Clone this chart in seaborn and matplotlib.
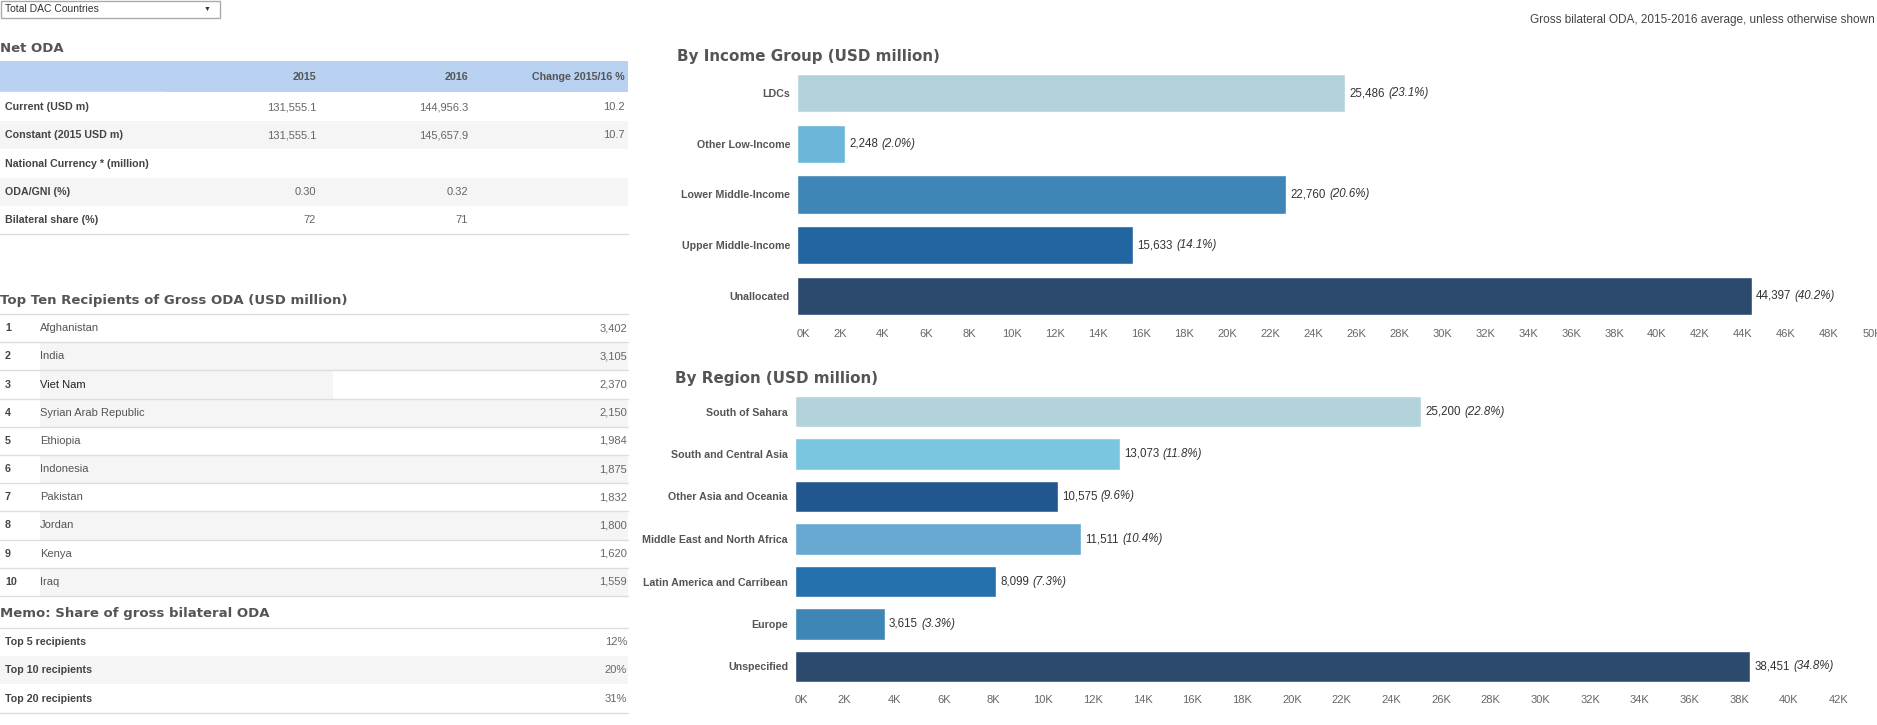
import matplotlib.pyplot as plt
import seaborn as sns
import pandas as pd
from matplotlib.patches import Rectangle

# --- data ---
income_groups = ["LDCs", "Other Low-Income", "Lower Middle-Income", "Upper Middle-Income", "Unallocated"]
income_values = [25486, 2248, 22760, 15633, 44397]
income_shares = [23.1, 2.0, 20.6, 14.1, 40.2]
income_colors = ["#b3d3da", "#6cb6d9", "#3e86b6", "#2166a1", "#2b4a6e"]

regions = ["South of Sahara", "South and Central Asia", "Other Asia and Oceania",
           "Middle East and North Africa", "Latin America and Carribean", "Europe", "Unspecified"]
region_values = [25200, 13073, 10575, 11511, 8099, 3615, 38451]
region_shares = [22.8, 11.8, 9.6, 10.4, 7.3, 3.3, 34.8]
region_colors = ["#b3d3da", "#7ac6e1", "#22568f", "#67a9d0", "#2471ae", "#3e86b6", "#2b4a6e"]

net_oda_columns = ["2015", "2016", "Change 2015/16 %"]
net_oda_rows = ["Current (USD m)", "Constant (2015 USD m)", "National Currency * (million)",
                "ODA/GNI (%)", "Bilateral share (%)"]
net_oda_2015 = ["131,555.1", "131,555.1", "", "0.30", "72"]
net_oda_2016 = ["144,956.3", "145,657.9", "", "0.32", "71"]
net_oda_change = ["10.2", "10.7", "", "", ""]

top_recipients = ["Afghanistan", "India", "Viet Nam", "Syrian Arab Republic", "Ethiopia",
                  "Indonesia", "Pakistan", "Jordan", "Kenya", "Iraq"]
top_values = [3402, 3105, 2370, 2150, 1984, 1875, 1832, 1800, 1620, 1559]

memo_labels = ["Top 5 recipients", "Top 10 recipients", "Top 20 recipients"]
memo_shares = [12, 20, 31]

sns.set_theme(style="white")
plt.rcParams['font.family'] = ['Liberation Sans', 'DejaVu Sans']

W, H = 1877, 725
fig = plt.figure(figsize=(W / 100, H / 100), dpi=100)
renderer = fig.canvas.get_renderer()

# background axes in pixel coordinates, used for the tables on the left
bg = fig.add_axes([0, 0, 1, 1])
bg.set_xlim(0, W)
bg.set_ylim(H, 0)
bg.axis('off')

LEFT_TITLE = dict(family='DejaVu Sans', weight='bold', color='#555555', size=9.5)
RIGHT_TITLE = dict(family='DejaVu Sans', weight='bold', color='#555555', size=10.9)
ROW_H = 28.2
TABLE_R = 628
SHADE = '#f5f5f5'
LINE = '#dddddd'


def txt(x, y, s, ha='left', **kw):
    style = dict(size=8, color='#555555')
    style.update(kw)
    bg.text(x, y, s, ha=ha, va='center', **style)


def hline(y, x0=0, x1=TABLE_R, color=LINE):
    bg.plot([x0, x1], [y, y], color=color, lw=1)


# dropdown and subtitle
bg.add_patch(Rectangle((0.5, 0.5), 220, 17, facecolor='white', edgecolor='#aaaaaa', lw=1))
txt(5, 9, "Total DAC Countries", color='#333333', size=7.5)
txt(207, 9, "\u25bc", ha='center', color='#333333', size=5)
txt(1875, 20, "Gross bilateral ODA, 2015-2016 average, unless otherwise shown", ha='right',
    color='#444444', size=8.5)

# Net ODA table
bg.text(0, 48, "Net ODA", va='center', **LEFT_TITLE)
bg.add_patch(Rectangle((0, 61), TABLE_R, 31, facecolor='#b8d1f0', edgecolor='none'))
hline(91.5, 0, 165, color='white')
for name, x in zip(net_oda_columns, [316, 468, 625]):
    txt(x, 77, name, ha='right', weight='bold', size=7.7)
top = 93
for i, label in enumerate(net_oda_rows):
    y0 = top + i * ROW_H
    if i % 2 == 1:
        bg.add_patch(Rectangle((0, y0), TABLE_R, ROW_H, facecolor=SHADE, edgecolor='none'))
    yc = y0 + ROW_H / 2
    txt(5, yc, label, weight='bold', color='#444444', size=7.7)
    txt(316, yc, net_oda_2015[i], ha='right', color='#666666')
    txt(468, yc, net_oda_2016[i], ha='right', color='#666666')
    txt(625, yc, net_oda_change[i], ha='right', color='#666666')
hline(top + len(net_oda_rows) * ROW_H)

# Top ten recipients table
bg.text(0, 300, "Top Ten Recipients of Gross ODA (USD million)", va='center', **LEFT_TITLE)
top = 314
hline(top)
for i, (name, v) in enumerate(zip(top_recipients, top_values)):
    y0 = top + i * ROW_H
    if i % 2 == 1:
        bg.add_patch(Rectangle((40, y0), TABLE_R - 40, ROW_H, facecolor=SHADE, edgecolor='none'))
    elif i == 2:
        bg.add_patch(Rectangle((40, y0), 293, ROW_H, facecolor=SHADE, edgecolor='none'))
    yc = y0 + ROW_H / 2
    txt(5, yc, str(i + 1), weight='bold', color='#444444', size=7.7)
    txt(40, yc, name, color='#222222' if i == 2 else '#555555')
    txt(627, yc, f"{v:,}", ha='right', color='#666666')
    hline(y0 + ROW_H)

# Memo table
bg.text(0, 614, "Memo: Share of gross bilateral ODA", va='center', **LEFT_TITLE)
top = 628
hline(top)
for i, (label, v) in enumerate(zip(memo_labels, memo_shares)):
    y0 = top + i * ROW_H
    if i % 2 == 1:
        bg.add_patch(Rectangle((0, y0), TABLE_R, ROW_H, facecolor=SHADE, edgecolor='none'))
    yc = y0 + ROW_H / 2
    txt(5, yc, label, weight='bold', color='#444444', size=7.7)
    txt(627, yc, f"{v}%", ha='right', color='#666666')
hline(top + len(memo_labels) * ROW_H)


def bar_chart(rect, cats, vals, shares, colors, xmax, tick_max, width, title, title_y, pad):
    ax = fig.add_axes(rect)
    df = pd.DataFrame({"cat": cats, "val": vals})
    sns.barplot(data=df, x="val", y="cat", hue="cat", palette=dict(zip(cats, colors)),
                legend=False, width=width, saturation=1, orient='h', ax=ax)
    ax.set_xlim(0, xmax)
    ax.set_ylim(len(cats) - 0.5, -0.5)
    ticks = list(range(0, tick_max + 1, 2000))
    ax.set_xticks(ticks)
    ax.set_xticklabels([f"{t // 1000}K" for t in ticks])
    ax.get_xticklabels()[0].set_ha('left')
    ax.set_xlabel('')
    ax.set_ylabel('')
    ax.tick_params(axis='x', length=0, pad=pad, labelsize=8, labelcolor='#666666')
    ax.tick_params(axis='y', length=0, pad=5, labelsize=7.7, labelcolor='#555555')
    for lab in ax.get_yticklabels():
        lab.set_fontweight('bold')
    sns.despine(ax=ax, left=True, bottom=True)
    ax.patch.set_alpha(0)
    # value label: number upright, share in italics right after it
    for i, (v, s) in enumerate(zip(vals, shares)):
        num = ax.annotate(f"{v:,}", xy=(v, i), xytext=(3, 0), textcoords='offset points',
                          va='center', fontsize=8.3, color='#333333')
        w = num.get_window_extent(renderer).width * 72 / fig.dpi
        ax.annotate(f"({s:.1f}%)", xy=(v, i), xytext=(3 + w + 2.5, 0), textcoords='offset points',
                    va='center', fontsize=8.3, color='#333333', style='italic')
    bg.text(rect[0] * W - 120, title_y, title, va='center', **RIGHT_TITLE)
    return ax


bar_chart([797 / W, 1 - 321 / H, 1075 / W, 253 / H], income_groups, income_values, income_shares,
          income_colors, 50000, 50000, 0.757, "By Income Group (USD million)", 56, 6)
bar_chart([795 / W, 1 - 687.75 / H, 1077 / W, 297.5 / H], regions, region_values, region_shares,
          region_colors, 43350, 42000, 0.73, "By Region (USD million)", 378, 5)

fig.savefig("out.png", dpi=100)
